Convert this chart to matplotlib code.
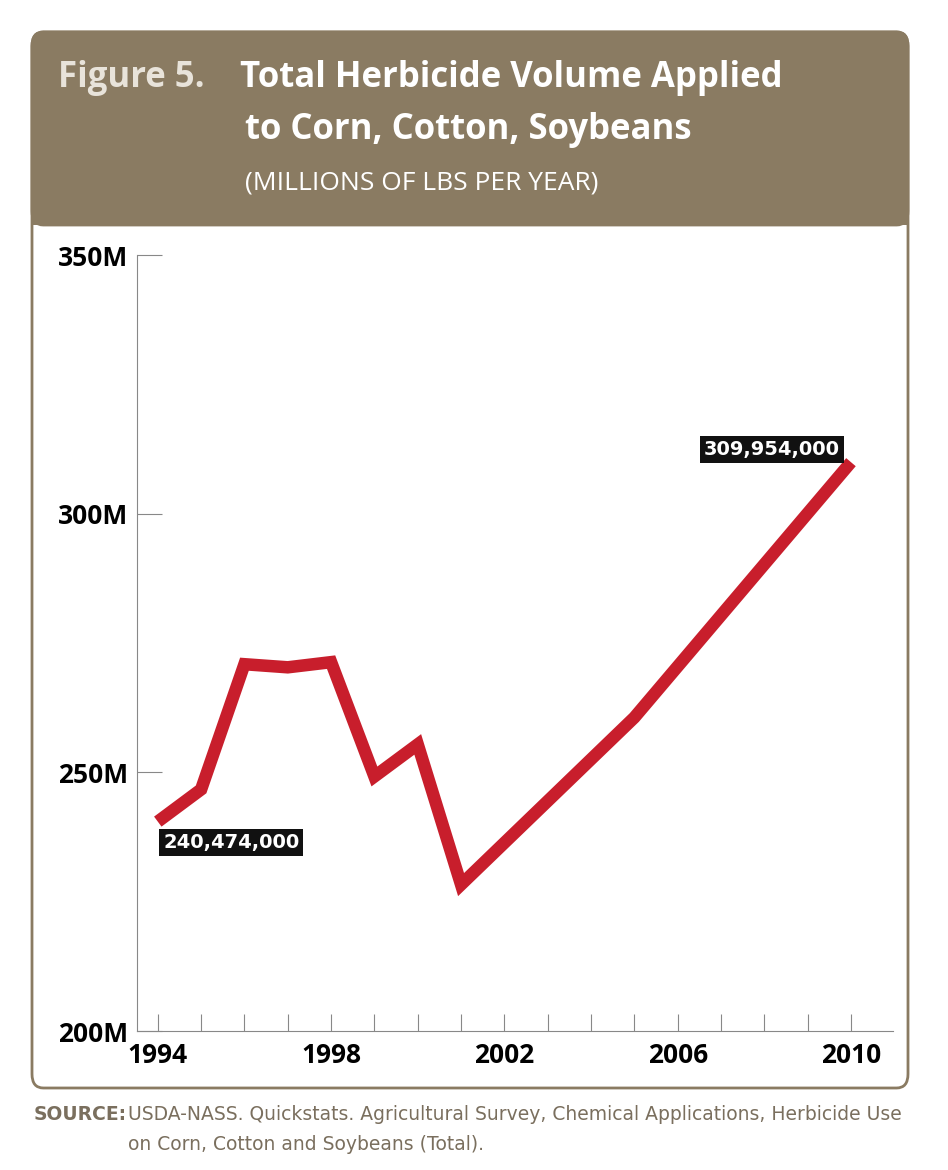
import matplotlib
matplotlib.use("Agg")
import matplotlib.pyplot as plt
from matplotlib.patches import FancyBboxPatch, Rectangle

years = [1994, 1995, 1996, 1997, 1998, 1999, 2000, 2001, 2005, 2010]
volume_m = [240.474, 246.7, 270.9, 270.3, 271.3, 249.2, 255.4, 228.3, 260.6, 309.954]
ytick_vals = [200, 250, 300, 350]
ytick_labels = ["200M", "250M", "300M", "350M"]
xtick_vals = [1994, 1998, 2002, 2006, 2010]
first_label = "240,474,000"
last_label = "309,954,000"

W, H = 948, 1170
fig = plt.figure(figsize=(W/100, H/100), dpi=100)
fig.patch.set_facecolor("white")

def fx(x): return x / W
def fy(y): return 1 - y / H

brown = "#8a7b62"
for p in [
    FancyBboxPatch((fx(32), fy(1088)), fx(876), (1088-32)/H,
        boxstyle="round,pad=0,rounding_size=0.012", transform=fig.transFigure,
        facecolor="white", edgecolor=brown, linewidth=2),
    FancyBboxPatch((fx(32), fy(225)), fx(876), (225-32)/H,
        boxstyle="round,pad=0,rounding_size=0.012", transform=fig.transFigure,
        facecolor=brown, edgecolor=brown, linewidth=2),
    Rectangle((fx(32), fy(225)), fx(876), 30/H, transform=fig.transFigure,
        facecolor=brown, edgecolor="none"),
]:
    p.set_zorder(-10)
    fig.patches.append(p)

fig.text(fx(58), fy(78), "Figure 5.", color="#e8e3da", fontsize=25, fontweight="bold",
         va="center", ha="left", family="Open Sans")
fig.text(fx(240), fy(78), "Total Herbicide Volume Applied", color="white", fontsize=25,
         fontweight="bold", va="center", ha="left", family="Open Sans")
fig.text(fx(245), fy(130), "to Corn, Cotton, Soybeans", color="white", fontsize=25,
         fontweight="bold", va="center", ha="left", family="Open Sans")
fig.text(fx(245), fy(183), "(MILLIONS OF LBS PER YEAR)", color="white", fontsize=19,
         va="center", ha="left", family="Open Sans")

ax = fig.add_axes([fx(137), fy(1031), fx(893-137), (1031-255)/H])
ax.patch.set_alpha(0)
ax.plot(years, volume_m, color="#c81e2c", linewidth=9, solid_joinstyle="miter",
        solid_capstyle="butt", zorder=3)
ax.set_xlim(1993.52, 2010.97)
ax.set_ylim(200, 350)
for s in ["top", "right"]:
    ax.spines[s].set_visible(False)
for s in ["left", "bottom"]:
    ax.spines[s].set_color("#888888")
ax.set_yticks(ytick_vals)
ax.set_yticklabels(ytick_labels)
ax.set_xticks(list(range(1994, 2011)))
ax.set_xticklabels([str(y) if y in xtick_vals else "" for y in range(1994, 2011)])
ax.tick_params(axis="y", direction="in", length=18, color="#888888", labelsize=19, pad=6)
ax.tick_params(axis="x", direction="in", length=12, color="#888888", labelsize=19, pad=8)
for t in ax.get_xticklabels() + ax.get_yticklabels():
    t.set_fontweight("bold"); t.set_family("Open Sans")

box = dict(boxstyle="square,pad=0.2", facecolor="#111111", edgecolor="none")
ax.annotate(first_label, (years[0], volume_m[0]), xytext=(4, -15), textcoords="offset points",
            color="white", fontsize=14, fontweight="bold", ha="left", va="center", bbox=box, zorder=5)
ax.annotate(last_label, (years[-1], volume_m[-1]), xytext=(-8, 9), textcoords="offset points",
            color="white", fontsize=14, fontweight="bold", ha="right", va="center", bbox=box, zorder=5)

fig.text(fx(34), fy(1115), "SOURCE:", color="#7a6f5e", fontsize=13.5, fontweight="bold", va="center")
fig.text(fx(128), fy(1115), "USDA-NASS. Quickstats. Agricultural Survey, Chemical Applications, Herbicide Use",
         color="#7a6f5e", fontsize=13.5, va="center")
fig.text(fx(128), fy(1145), "on Corn, Cotton and Soybeans (Total).", color="#7a6f5e", fontsize=13.5, va="center")

fig.savefig("out.png", dpi=100)
